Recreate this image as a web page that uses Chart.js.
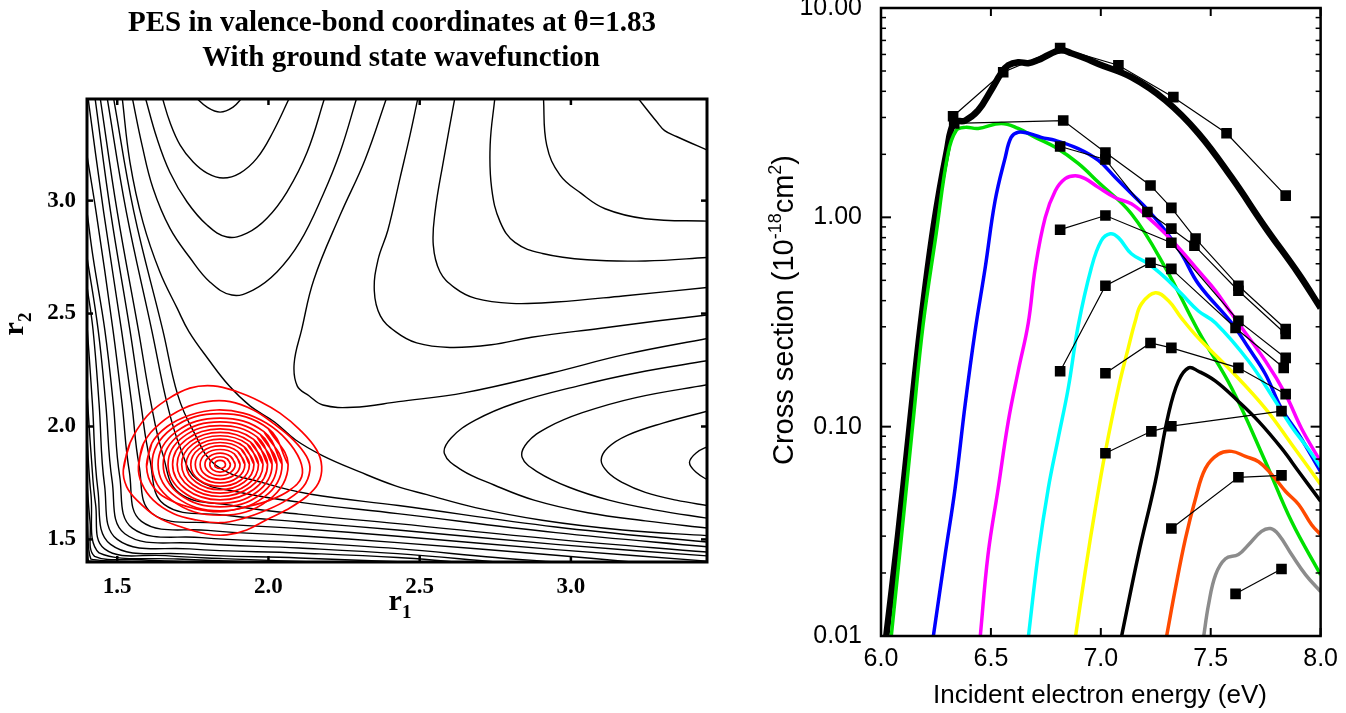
<!DOCTYPE html>
<html><head><meta charset="utf-8">
<script src="https://cdn.jsdelivr.net/npm/chart.js@4.4.1/dist/chart.umd.min.js"></script>
<style>
html,body{margin:0;padding:0;background:#fff;width:1346px;height:713px;overflow:hidden;position:relative}
#c1{position:absolute;left:0;top:0}
#c2{position:absolute;left:730px;top:-26px}
</style></head><body>
<canvas id="c1" width="730" height="713"></canvas>
<canvas id="c2" width="616" height="739"></canvas>
<script>
// ================= LEFT PANEL DATA (r1, r2) =================
const pesTicks = [1.5, 2.0, 2.5, 3.0];
const pesTickLabels = ['1.5', '2.0', '2.5', '3.0'];
const pesTitle1 = 'PES in valence-bond coordinates at \u03B8=1.83';
const pesTitle2 = 'With ground state wavefunction';

// valley contours (top valley U, right valley C)
const valleyU1 = [[1.757,3.46],[1.797,3.414],[1.840,3.392],[1.883,3.414],[1.916,3.46]];
const valleyU2 = [[1.648,3.46],[1.674,3.348],[1.708,3.246],[1.751,3.171],[1.797,3.122],[1.850,3.100],[1.906,3.122],[1.962,3.188],[2.015,3.304],[2.071,3.46]];
const valleyU3 = [[1.592,3.46],[1.631,3.277],[1.674,3.126],[1.731,2.994],[1.797,2.892],[1.863,2.839],[1.929,2.856],[1.995,2.922],[2.061,3.038],[2.128,3.215],[2.187,3.46]];
const valleyU4 = [[1.549,3.46],[1.582,3.246],[1.618,3.056],[1.674,2.878],[1.741,2.746],[1.807,2.639],[1.879,2.582],[1.949,2.604],[2.028,2.684],[2.104,2.817],[2.180,3.025],[2.237,3.215],[2.293,3.46]];
const valleyC1 = [[3.46,1.757],[3.414,1.797],[3.392,1.840],[3.414,1.883],[3.46,1.916]];
const valleyC2 = [[3.46,1.648],[3.348,1.674],[3.246,1.708],[3.171,1.751],[3.122,1.797],[3.100,1.850],[3.122,1.906],[3.188,1.962],[3.304,2.015],[3.46,2.071]];
const valleyC3 = [[3.46,1.592],[3.277,1.631],[3.126,1.674],[2.994,1.731],[2.892,1.797],[2.839,1.863],[2.856,1.929],[2.922,1.995],[3.038,2.061],[3.215,2.128],[3.46,2.187]];
const valleyC4 = [[3.46,1.549],[3.246,1.582],[3.056,1.618],[2.878,1.674],[2.746,1.741],[2.639,1.807],[2.582,1.879],[2.604,1.949],[2.684,2.028],[2.817,2.104],[3.025,2.180],[3.215,2.237],[3.46,2.293]];

// well / wall contours
const wellL5 = [[1.516,3.46],[1.542,3.171],[1.585,2.905],[1.641,2.684],[1.698,2.524],[1.737,2.42],[1.80,2.30],[1.87,2.18],[1.94,2.09],[2.02,2.02],[2.09,1.94],[2.18,1.87],[2.30,1.80],[2.42,1.737],[2.524,1.698],[2.684,1.641],[2.905,1.585],[3.171,1.542],[3.46,1.516]];
const wellL6 = [[1.487,3.46],[1.555,2.95],[1.65,2.43],[1.70,2.14],[1.75,1.984],[1.827,1.827],[1.984,1.75],[2.14,1.70],[2.43,1.65],[2.95,1.555],[3.46,1.487]];
const wallW1 = [[1.466,3.46],[1.53,2.95],[1.614,2.427],[1.665,2.10],[1.71,1.90],[1.765,1.765],[1.90,1.71],[2.10,1.665],[2.427,1.614],[2.95,1.53],[3.46,1.466]];
const wallW2 = [[1.443,3.46],[1.50,2.95],[1.570,2.427],[1.612,2.10],[1.650,1.88],[1.705,1.705],[1.88,1.650],[2.10,1.612],[2.427,1.570],[2.95,1.50],[3.46,1.443]];
const wallW3 = [[1.426,3.46],[1.478,2.95],[1.542,2.427],[1.578,2.10],[1.607,1.86],[1.655,1.655],[1.86,1.607],[2.10,1.578],[2.427,1.542],[2.95,1.478],[3.46,1.426]];
const wallW4 = [[1.403,3.46],[1.455,2.95],[1.514,2.427],[1.548,2.10],[1.572,1.83],[1.615,1.615],[1.83,1.572],[2.10,1.548],[2.427,1.514],[2.95,1.455],[3.46,1.403]];
const wallW5 = [[1.40,3.2],[1.43,2.95],[1.486,2.427],[1.516,2.10],[1.540,1.80],[1.58,1.58],[1.80,1.540],[2.10,1.516],[2.427,1.486],[2.95,1.43],[3.2,1.40]];
const wallW6 = [[1.40,2.95],[1.42,2.75],[1.459,2.427],[1.487,2.10],[1.508,1.78],[1.55,1.55],[1.78,1.508],[2.10,1.487],[2.427,1.459],[2.75,1.42],[2.95,1.40]];
const wallW7 = [[1.40,2.75],[1.437,2.427],[1.462,2.10],[1.483,1.76],[1.525,1.525],[1.76,1.483],[2.10,1.462],[2.427,1.437],[2.75,1.40]];
const wallW8 = [[1.40,2.62],[1.420,2.427],[1.440,2.10],[1.458,1.74],[1.50,1.50],[1.74,1.458],[2.10,1.440],[2.427,1.420],[2.62,1.40]];
const wallW9 = [[1.40,2.45],[1.418,2.10],[1.436,1.72],[1.478,1.478],[1.72,1.436],[2.10,1.418],[2.45,1.40]];
const wallW10 = [[1.40,2.15],[1.415,1.85],[1.428,1.66],[1.458,1.458],[1.66,1.428],[1.85,1.415],[2.15,1.40]];
const wallW11 = [[1.40,1.95],[1.413,1.70],[1.44,1.44],[1.70,1.413],[1.95,1.40]];
const wallW12 = [[1.40,1.75],[1.41,1.58],[1.425,1.425],[1.58,1.41],[1.75,1.40]];
const wallW13 = [[1.40,1.60],[1.413,1.413],[1.60,1.40]];
const wallW14 = [[1.40,1.50],[1.405,1.405],[1.50,1.40]];

// plateau contours
const plateauS = [[2.392,3.46],[2.319,3.18],[2.237,2.936],[2.15,2.65],[2.11,2.43],[2.085,2.28],[2.095,2.18],[2.135,2.135],[2.18,2.095],[2.28,2.085],[2.43,2.11],[2.65,2.15],[2.936,2.237],[3.18,2.319],[3.46,2.392]];
const plateauA = [[2.495,3.46],[2.468,3.29],[2.435,3.10],[2.395,2.87],[2.362,2.737],[2.35,2.60],[2.37,2.49],[2.42,2.42],[2.49,2.37],[2.60,2.35],[2.737,2.362],[2.87,2.395],[3.10,2.435],[3.29,2.468],[3.46,2.495]];
const plateauB = [[2.617,3.46],[2.578,3.172],[2.551,2.951],[2.545,2.803],[2.567,2.685],[2.615,2.615],[2.685,2.567],[2.803,2.545],[2.951,2.551],[3.172,2.578],[3.46,2.617]];
const plateauC = [[2.749,3.46],[2.733,3.246],[2.738,3.054],[2.766,2.906],[2.815,2.815],[2.906,2.766],[3.054,2.738],[3.246,2.733],[3.46,2.749]];
const plateauD = [[2.909,3.46],[2.920,3.246],[2.964,3.113],[3.033,3.033],[3.113,2.964],[3.246,2.920],[3.46,2.909]];
const plateauE = [[3.218,3.46],[3.284,3.349],[3.31,3.31],[3.349,3.284],[3.46,3.218]];

// ground-state wavefunction contours (closed rings)
const wfRing1 = [[1.520,1.807],[1.542,1.926],[1.597,2.044],[1.663,2.118],[1.740,2.170],[1.817,2.180],[1.895,2.155],[1.972,2.111],[2.038,2.059],[2.104,1.985],[2.159,1.897],[2.176,1.823],[2.165,1.749],[2.126,1.690],[2.060,1.631],[1.994,1.587],[1.928,1.542],[1.862,1.520],[1.796,1.524],[1.707,1.557],[1.630,1.601],[1.564,1.675],[1.531,1.734]];
const wfRing2 = [[1.570,1.822],[1.587,1.925],[1.642,2.014],[1.719,2.080],[1.796,2.110],[1.873,2.110],[1.950,2.073],[2.016,2.014],[2.082,1.941],[2.126,1.867],[2.137,1.807],[2.115,1.733],[2.060,1.674],[1.994,1.630],[1.917,1.593],[1.840,1.574],[1.763,1.586],[1.685,1.615],[1.619,1.674],[1.581,1.748]];
const wfRing3 = [[1.597,1.822],[1.614,1.925],[1.664,1.999],[1.741,2.051],[1.829,2.073],[1.917,2.059],[1.994,2.014],[2.060,1.941],[2.104,1.852],[2.110,1.778],[2.071,1.719],[2.005,1.674],[1.928,1.645],[1.840,1.623],[1.752,1.638],[1.674,1.674],[1.619,1.733]];
const wfRing4 = [[2.065,1.832],[1.999,1.991],[1.840,2.057],[1.681,1.991],[1.615,1.832],[1.681,1.673],[1.840,1.607],[1.999,1.673]];
const wfRing5 = [[2.045,1.832],[1.985,1.977],[1.840,2.037],[1.695,1.977],[1.635,1.832],[1.695,1.687],[1.840,1.627],[1.985,1.687]];
const wfRing6 = [[2.028,1.832],[1.973,1.965],[1.840,2.020],[1.707,1.965],[1.652,1.832],[1.707,1.699],[1.840,1.644],[1.973,1.699]];
const wfRing7 = [[2.012,1.832],[1.962,1.954],[1.840,2.004],[1.718,1.954],[1.668,1.832],[1.718,1.710],[1.840,1.660],[1.962,1.710]];
const wfRing8 = [[1.997,1.832],[1.951,1.943],[1.840,1.989],[1.729,1.943],[1.683,1.832],[1.729,1.721],[1.840,1.675],[1.951,1.721]];
const wfRing9 = [[1.982,1.832],[1.940,1.932],[1.840,1.974],[1.740,1.932],[1.698,1.832],[1.740,1.732],[1.840,1.690],[1.940,1.732]];
const wfRing10 = [[1.967,1.832],[1.930,1.922],[1.840,1.959],[1.750,1.922],[1.713,1.832],[1.750,1.742],[1.840,1.705],[1.930,1.742]];
const wfRing11 = [[1.952,1.832],[1.919,1.911],[1.840,1.944],[1.761,1.911],[1.728,1.832],[1.761,1.753],[1.840,1.720],[1.919,1.753]];
const wfRing12 = [[1.937,1.832],[1.909,1.901],[1.840,1.929],[1.771,1.901],[1.743,1.832],[1.771,1.763],[1.840,1.735],[1.909,1.763]];
const wfRing13 = [[1.922,1.832],[1.898,1.890],[1.840,1.914],[1.782,1.890],[1.758,1.832],[1.782,1.774],[1.840,1.750],[1.898,1.774]];
const wfRing14 = [[1.906,1.832],[1.887,1.879],[1.840,1.898],[1.793,1.879],[1.774,1.832],[1.793,1.785],[1.840,1.766],[1.887,1.785]];
const wfRing15 = [[1.890,1.832],[1.875,1.867],[1.840,1.882],[1.805,1.867],[1.790,1.832],[1.805,1.797],[1.840,1.782],[1.875,1.797]];
const wfRing16 = [[1.874,1.832],[1.864,1.856],[1.840,1.866],[1.816,1.856],[1.806,1.832],[1.816,1.808],[1.840,1.798],[1.864,1.808]];
const wfRing17 = [[1.858,1.832],[1.853,1.845],[1.840,1.850],[1.827,1.845],[1.822,1.832],[1.827,1.819],[1.840,1.814],[1.853,1.819]];

// ================= RIGHT PANEL DATA (energy eV, cross section 1e-18 cm^2) =================
const eTicks = [6.0, 6.5, 7.0, 7.5, 8.0];
const eTickLabels = ['6.0', '6.5', '7.0', '7.5', '8.0'];
const sTicks = [0.01, 0.1, 1, 10];
const sTickLabels = ['0.01', '0.10', '1.00', '10.00'];

const calcTotal = [[6.023,0.0098],[6.077,0.0298],[6.128,0.095],[6.180,0.303],[6.240,0.912],[6.300,2.09],[6.333,2.84],[6.383,2.90],[6.442,3.24],[6.501,4.05],[6.547,4.89],[6.579,5.33],[6.624,5.51],[6.670,5.45],[6.715,5.64],[6.761,5.96],[6.815,6.29],[6.866,6.08],[6.929,5.75],[6.989,5.40],[7.139,4.67],[7.294,3.62],[7.444,2.52],[7.595,1.55],[7.749,0.894],[7.900,0.537],[8.0,0.369]];
const calcV0 = [[6.046,0.0098],[6.100,0.0352],[6.146,0.106],[6.191,0.303],[6.251,0.835],[6.305,2.02],[6.342,2.60],[6.383,2.69],[6.442,2.66],[6.547,2.81],[6.624,2.66],[6.702,2.41],[6.793,2.16],[6.897,1.81],[6.989,1.47],[7.139,1.04],[7.294,0.574],[7.444,0.286],[7.595,0.153],[7.749,0.068],[7.868,0.0352],[8.0,0.0196]];
const calcV1 = [[6.237,0.0098],[6.292,0.0245],[6.337,0.0507],[6.383,0.128],[6.428,0.286],[6.474,0.574],[6.519,1.20],[6.565,1.93],[6.592,2.41],[6.624,2.55],[6.670,2.52],[6.729,2.41],[6.793,2.33],[6.897,2.13],[6.989,1.87],[7.066,1.55],[7.139,1.30],[7.216,1.08],[7.294,0.863],[7.367,0.670],[7.444,0.481],[7.595,0.313],[7.672,0.238],[7.749,0.178],[7.822,0.122],[7.900,0.092],[8.0,0.061]];
const calcV2 = [[6.451,0.0098],[6.487,0.0245],[6.533,0.0507],[6.579,0.106],[6.624,0.184],[6.670,0.313],[6.702,0.574],[6.747,0.997],[6.793,1.34],[6.838,1.53],[6.884,1.58],[6.929,1.53],[6.989,1.39],[7.066,1.24],[7.139,1.16],[7.216,0.997],[7.294,0.835],[7.367,0.692],[7.444,0.556],[7.522,0.446],[7.595,0.346],[7.749,0.206],[7.840,0.143],[7.913,0.098],[8.0,0.068]];
const calcV3 = [[6.670,0.0098],[6.715,0.0245],[6.761,0.0507],[6.806,0.0879],[6.852,0.153],[6.897,0.303],[6.957,0.574],[7.002,0.773],[7.043,0.835],[7.080,0.800],[7.139,0.670],[7.216,0.600],[7.294,0.514],[7.367,0.431],[7.444,0.357],[7.522,0.313],[7.672,0.206],[7.795,0.132],[7.868,0.100],[7.945,0.078],[8.0,0.064]];
const calcV4 = [[6.884,0.0098],[6.929,0.0203],[6.975,0.0406],[7.021,0.0762],[7.080,0.153],[7.125,0.238],[7.157,0.320],[7.185,0.386],[7.248,0.436],[7.308,0.399],[7.367,0.330],[7.444,0.265],[7.595,0.184],[7.749,0.122],[7.868,0.0824],[8.0,0.053]];
const calcV5 = [[7.093,0.0098],[7.171,0.0245],[7.248,0.0547],[7.308,0.115],[7.353,0.165],[7.399,0.191],[7.444,0.184],[7.522,0.165],[7.626,0.132],[7.718,0.106],[7.822,0.0789],[7.900,0.0611],[8.0,0.044]];
const calcV6 = [[7.298,0.0098],[7.339,0.0168],[7.385,0.0292],[7.431,0.0454],[7.476,0.0632],[7.535,0.0738],[7.595,0.0762],[7.658,0.0721],[7.718,0.068],[7.777,0.0592],[7.841,0.049],[7.900,0.0425],[7.959,0.034],[8.0,0.0305]];
const calcV7 = [[7.467,0.0098],[7.490,0.0141],[7.522,0.0196],[7.567,0.0234],[7.626,0.0245],[7.672,0.0273],[7.731,0.0316],[7.772,0.0326],[7.809,0.0305],[7.868,0.0245],[7.932,0.0196],[8.0,0.0163]];

const expA = [[6.328,3.04],[6.556,4.93],[6.815,6.43],[7.080,5.33],[7.330,3.75],[7.572,2.52],[7.841,1.27]];
const expB = [[6.333,2.81],[6.829,2.90],[7.021,2.04],[7.226,1.42],[7.321,1.11],[7.431,0.791],[7.626,0.471],[7.841,0.293]];
const expC = [[6.815,2.18],[7.021,1.89],[7.212,1.06],[7.321,0.883],[7.426,0.732],[7.626,0.446],[7.841,0.277]];
const expD = [[6.815,0.873],[7.021,1.02],[7.321,0.756],[7.626,0.320],[7.841,0.213]];
const expE = [[6.815,0.184],[7.021,0.471],[7.226,0.607],[7.321,0.567],[7.613,0.296],[7.832,0.191]];
const expF = [[7.021,0.180],[7.226,0.251],[7.321,0.238],[7.626,0.191],[7.841,0.143]];
const expG = [[7.021,0.0747],[7.230,0.095],[7.321,0.1005],[7.822,0.1186]];
const expH = [[7.321,0.0326],[7.626,0.0573],[7.822,0.0585]];
const expI = [[7.613,0.0159],[7.822,0.0209]];

// ================= helpers =================
const pts = a => a.map(p => ({x: p[0], y: p[1]}));
const closeRing = a => a.concat(a.slice(0, 2));
function seg(ctx, x1, y1, x2, y2){ ctx.beginPath(); ctx.moveTo(x1, y1); ctx.lineTo(x2, y2); ctx.stroke(); }
function richText(ctx, parts, cx, cy, size, family, weight){
  const f = s => (weight ? weight + ' ' : '') + s + 'px ' + family;
  let total = 0;
  parts.forEach(p => { ctx.font = f(p[1] ? Math.round(size * 0.62) : size); total += ctx.measureText(p[0]).width; });
  let xx = cx - total / 2;
  ctx.textAlign = 'left'; ctx.textBaseline = 'alphabetic';
  parts.forEach(p => {
    ctx.font = f(p[1] ? Math.round(size * 0.62) : size);
    const dy = p[1] === 1 ? -size * 0.4 : (p[1] === 2 ? size * 0.28 : 0);
    ctx.fillText(p[0], xx, cy + dy);
    xx += ctx.measureText(p[0]).width;
  });
}

// ================= LEFT CHART =================
const blackContours = [valleyU1, valleyU2, valleyU3, valleyU4, valleyC1, valleyC2, valleyC3, valleyC4,
  wellL5, wellL6, wallW1, wallW2, wallW3, wallW4, wallW5, wallW6, wallW7, wallW8, wallW9, wallW10, wallW11, wallW12, wallW13, wallW14,
  plateauS, plateauA, plateauB, plateauC, plateauD, plateauE];
const redRings = [wfRing1, wfRing2, wfRing3, wfRing4, wfRing5, wfRing6, wfRing7, wfRing8, wfRing9, wfRing10, wfRing11, wfRing12, wfRing13, wfRing14, wfRing15, wfRing16, wfRing17];

const leftDatasets = [];
redRings.forEach(r => leftDatasets.push({data: pts(closeRing(r)), showLine: true, borderColor: '#ff0000', borderWidth: 1.7, pointRadius: 0, tension: 0.4, fill: false, clip: 0}));
blackContours.forEach(c => leftDatasets.push({data: pts(c), showLine: true, borderColor: '#000', borderWidth: 1.4, pointRadius: 0, tension: 0.4, fill: false, clip: 0}));

const leftDecor = {
  id: 'leftDecor',
  afterDatasetsDraw(chart){
    const {ctx, chartArea: a, scales: {x, y}} = chart;
    ctx.save();
    ctx.strokeStyle = '#000'; ctx.lineWidth = 3;
    ctx.strokeRect(a.left, a.top, a.right - a.left, a.bottom - a.top);
    ctx.lineWidth = 2.5;
    pesTicks.forEach(v => {
      const px = x.getPixelForValue(v), py = y.getPixelForValue(v);
      seg(ctx, px, a.bottom, px, a.bottom - 6); seg(ctx, px, a.top, px, a.top + 6);
      seg(ctx, a.left, py, a.left + 6, py); seg(ctx, a.right, py, a.right - 6, py);
    });
    ctx.fillStyle = '#000';
    ctx.font = 'bold 29px "Liberation Serif"'; ctx.textAlign = 'center'; ctx.textBaseline = 'alphabetic';
    ctx.fillText(pesTitle1, 392, 31);
    ctx.fillText(pesTitle2, 401, 66);
    richText(ctx, [['r', 0], ['1', 2]], 400, 610, 30, '"Liberation Serif"', 'bold');
    ctx.translate(23, 324); ctx.rotate(-Math.PI / 2);
    richText(ctx, [['r', 0], ['2', 2]], 0, 0, 30, '"Liberation Serif"', 'bold');
    ctx.restore();
  }
};

new Chart(document.getElementById('c1'), {
  type: 'scatter',
  data: {datasets: leftDatasets},
  options: {
    responsive: false, animation: false, events: [],
    layout: {padding: {left: 0, right: 23, top: 99, bottom: 0}},
    plugins: {legend: {display: false}, tooltip: {enabled: false}, title: {display: false}},
    scales: {
      x: {type: 'linear', min: 1.4, max: 3.45,
        afterBuildTicks: s => { s.ticks = pesTicks.map(v => ({value: v})); },
        ticks: {callback: (v, i) => pesTickLabels[i], font: {family: 'Liberation Serif', size: 23, weight: 'bold'}, color: '#000', padding: 11, maxRotation: 0, autoSkip: false},
        grid: {display: false, drawTicks: false}, border: {display: false},
        afterFit: s => { s.height = 151; }},
      y: {type: 'linear', min: 1.4, max: 3.45,
        afterBuildTicks: s => { s.ticks = pesTicks.map(v => ({value: v})); },
        ticks: {callback: (v, i) => pesTickLabels[i], font: {family: 'Liberation Serif', size: 23, weight: 'bold'}, color: '#000', padding: 11, autoSkip: false},
        grid: {display: false, drawTicks: false}, border: {display: false},
        afterFit: s => { s.width = 87; }}
    }
  },
  plugins: [leftDecor]
});

// ================= RIGHT CHART =================
const curveDefs = [
  [calcV7, '#8c8c8c', 3.5], [calcV6, '#ff4a00', 3.5], [calcV5, '#000000', 3.5], [calcV4, '#ffff00', 3.5],
  [calcV3, '#00ffff', 3.5], [calcV2, '#ff00ff', 3.5], [calcV1, '#0000ff', 3.5], [calcV0, '#00e000', 3.5],
  [calcTotal, '#000000', 6.5]
];
const expSets = [expA, expB, expC, expD, expE, expF, expG, expH, expI];
const rightDatasets = [];
expSets.forEach(e => rightDatasets.push({data: pts(e), showLine: true, borderColor: '#000', borderWidth: 1.2, tension: 0,
  pointStyle: 'rect', pointRadius: 7.5, pointBackgroundColor: '#000', pointBorderColor: '#000', pointBorderWidth: 0, clip: 0}));
curveDefs.forEach(c => rightDatasets.push({data: pts(c[0]), showLine: true, borderColor: c[1], borderWidth: c[2], pointRadius: 0, tension: 0.4, fill: false, clip: 0}));

const rightDecor = {
  id: 'rightDecor',
  afterDatasetsDraw(chart){
    const {ctx, chartArea: a, scales: {x, y}} = chart;
    ctx.save();
    ctx.strokeStyle = '#000'; ctx.lineWidth = 2.5;
    ctx.strokeRect(a.left, a.top, a.right - a.left, a.bottom - a.top);
    ctx.lineWidth = 2;
    eTicks.forEach(v => { const p = x.getPixelForValue(v); seg(ctx, p, a.bottom, p, a.bottom - 8); seg(ctx, p, a.top, p, a.top + 8); });
    sTicks.forEach(v => { const p = y.getPixelForValue(v); seg(ctx, a.left, p, a.left + 10, p); seg(ctx, a.right, p, a.right - 10, p); });
    ctx.lineWidth = 1.5;
    sTicks.slice(0, -1).forEach(v => { for (let k = 2; k <= 9; k++){ const p = y.getPixelForValue(v * k); seg(ctx, a.left, p, a.left + 5, p); seg(ctx, a.right, p, a.right - 5, p); } });
    ctx.fillStyle = '#000';
    ctx.font = '26px "Liberation Sans"'; ctx.textAlign = 'center'; ctx.textBaseline = 'alphabetic';
    ctx.fillText('Incident electron energy (eV)', 370, 729);
    ctx.translate(63, 336); ctx.rotate(-Math.PI / 2);
    richText(ctx, [['Cross section (10', 0], ['-18', 1], ['cm', 0], ['2', 1], [')', 0]], 0, 0, 29, '"Liberation Sans"', '');
    ctx.restore();
  }
};

new Chart(document.getElementById('c2'), {
  type: 'scatter',
  data: {datasets: rightDatasets},
  options: {
    responsive: false, animation: false, events: [],
    layout: {padding: {left: 0, right: 25, top: 7, bottom: 0}},
    plugins: {legend: {display: false}, tooltip: {enabled: false}},
    scales: {
      x: {type: 'linear', min: 6.0, max: 8.0,
        afterBuildTicks: s => { s.ticks = eTicks.map(v => ({value: v})); },
        ticks: {callback: (v, i) => eTickLabels[i], font: {family: 'Liberation Sans', size: 25}, color: '#000', padding: 8, maxRotation: 0, autoSkip: false},
        grid: {display: false, drawTicks: false}, border: {display: false},
        afterFit: s => { s.height = 77; }},
      y: {type: 'logarithmic', min: 0.01, max: 10,
        afterBuildTicks: s => { s.ticks = sTicks.map(v => ({value: v})); },
        ticks: {callback: (v, i) => sTickLabels[i], font: {family: 'Liberation Sans', size: 25}, color: '#000', padding: 19, autoSkip: false},
        grid: {display: false, drawTicks: false}, border: {display: false},
        afterFit: s => { s.width = 151; }}
    }
  },
  plugins: [rightDecor]
});
</script></body></html>
